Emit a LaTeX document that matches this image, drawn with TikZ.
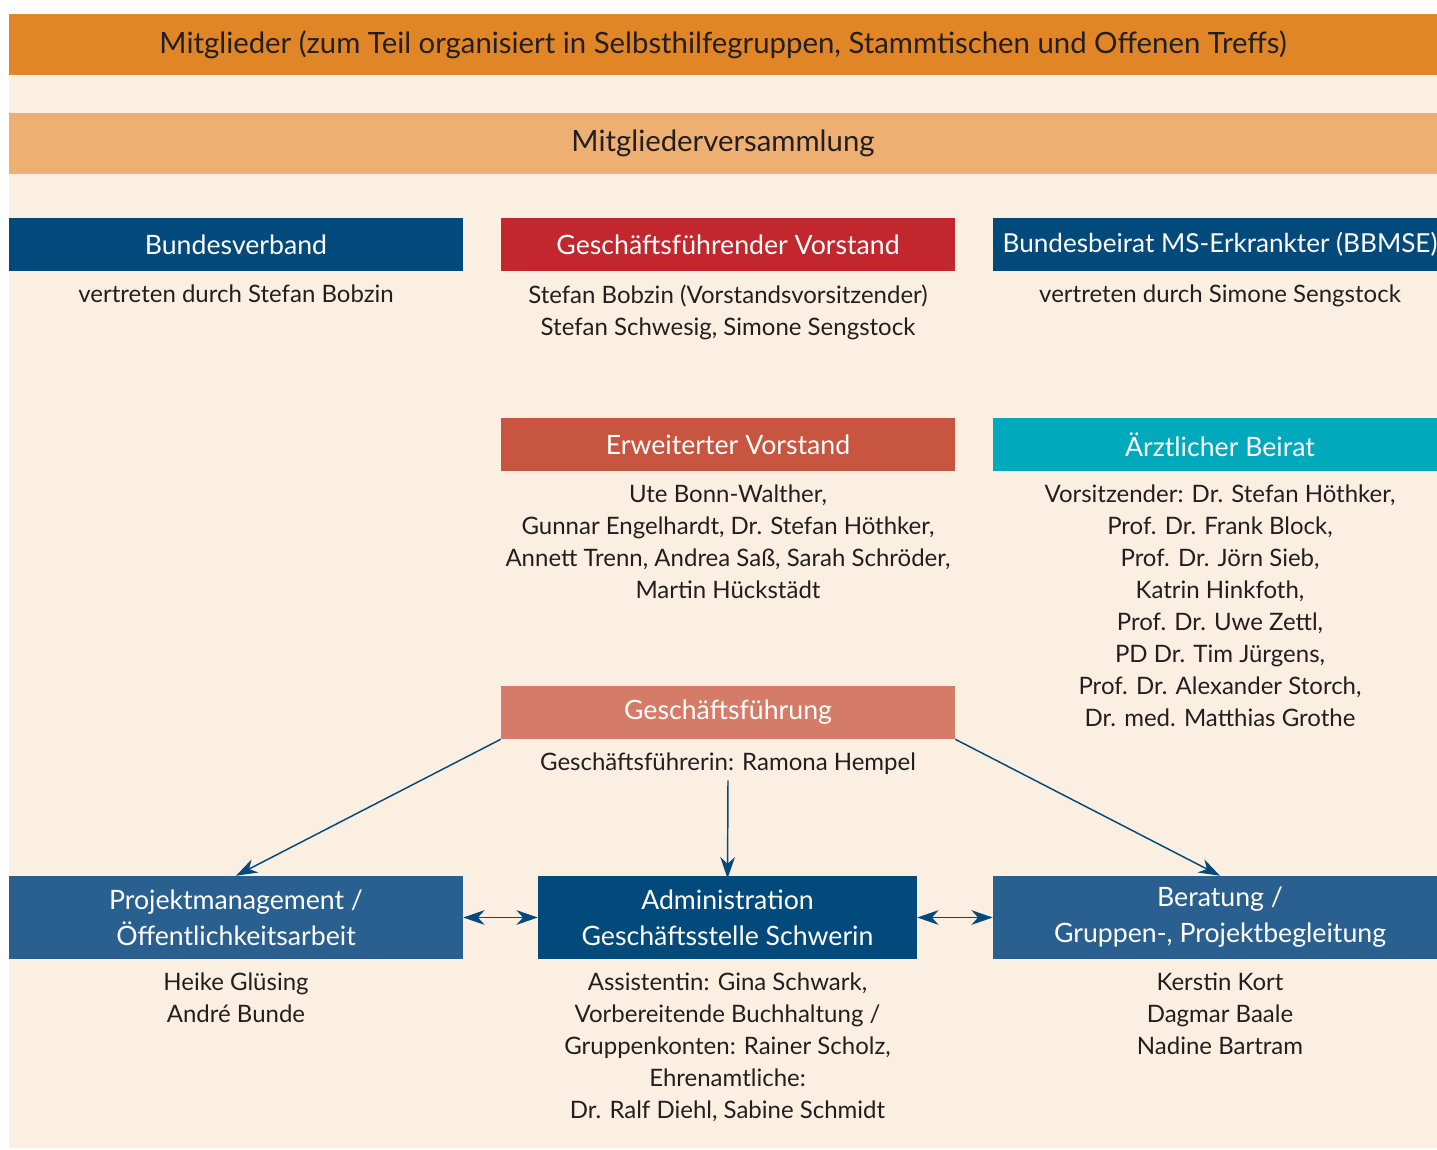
\documentclass[tikz,border=0pt]{standalone}
\usepackage{fontspec}
\setmainfont{Lato}
\usetikzlibrary{arrows.meta,positioning}

\definecolor{cream}{HTML}{FBEFE2}
\definecolor{topbar}{HTML}{E08626}
\definecolor{assembly}{HTML}{EDAF72}
\definecolor{navy}{HTML}{034A7C}
\definecolor{steel}{HTML}{2A6090}
\definecolor{boardred}{HTML}{C1272D}
\definecolor{extred}{HTML}{C8553F}
\definecolor{mgmt}{HTML}{D47C67}
\definecolor{teal}{HTML}{00A9BC}
\definecolor{ink}{HTML}{231F20}

\begin{document}
\begin{tikzpicture}[x=0.75pt,y=-0.75pt,node distance=4pt,
>={Stealth[length=16pt,width=11pt,inset=5pt]},
bar/.style={minimum width=1071pt,minimum height=45.75pt,inner sep=0pt,
    text=ink,font=\fontsize{22}{26}\selectfont},
unit/.style={minimum width=340.5pt,minimum height=39.75pt,inner sep=0pt,
    text=white,font=\fontsize{20}{24}\selectfont},
dept/.style={unit,minimum height=62.25pt,align=center,
    font=\fontsize{20}{27}\selectfont},
names/.style={align=center,text=ink,inner sep=0pt,
    font=\fontsize{18}{24}\selectfont},
link/.style={navy,line width=1.1pt}]
\useasboundingbox (0,0) rectangle (1437,1149);
\fill[cream] (9,14) rectangle (1437,1148);

% Mitglieder und Versammlung
\node[bar,fill=topbar] (mg) at (723,44.5)
    {Mitglieder (zum Teil organisiert in Selbsthilfegruppen, Stammtischen und Offenen Treffs)};
\node[bar,fill=assembly] (mv) at (723,143.5) {Mitgliederversammlung};

% erste Reihe
\node[unit,fill=navy] (bv) at (236,244.5) {Bundesverband};
\node[unit,fill=boardred] (gv) at (728,244.5) {Geschäftsführender Vorstand};
\node[unit,fill=navy,font=\fontsize{19.6}{24}\selectfont] (bb) at (1220,244.5)
    {Bundesbeirat MS-Erkrankter (BBMSE)};
\node[names] (bvN) [below=10pt of bv] {vertreten durch Stefan Bobzin};
\node[names] (gvN) [below=10pt of gv] {Stefan Bobzin (Vorstandsvorsitzender)\\
    Stefan Schwesig, Simone Sengstock};
\node[names] (bbN) [below=10pt of bb] {vertreten durch Simone Sengstock};

% zweite Reihe
\node[unit,fill=extred] (ev) at (728,444.5) {Erweiterter Vorstand};
\node[unit,fill=teal] (ab) at (1220,444.5) {Ärztlicher Beirat};
\node[names] (evN) [below=10pt of ev] {Ute Bonn-Walther,\\
    Gunnar Engelhardt, Dr. Stefan Höthker,\\
    Annett Trenn, Andrea Saß, Sarah Schröder,\\
    Martin Hückstädt};
\node[names] (abN) [below=10pt of ab] {Vorsitzender: Dr. Stefan Höthker,\\
    Prof. Dr. Frank Block,\\ Prof. Dr. Jörn Sieb,\\ Katrin Hinkfoth,\\
    Prof. Dr. Uwe Zettl,\\ PD Dr. Tim Jürgens,\\
    Prof. Dr. Alexander Storch,\\ Dr. med. Matthias Grothe};

% Geschaeftsfuehrung
\node[unit,fill=mgmt] (gf) at (728,712.5) {Geschäftsführung};
\node[names] (gfN) [below=10pt of gf] {Geschäftsführerin: Ramona Hempel};

% untere Reihe
\node[dept,fill=steel] (pm) at (236,917.5) {Projektmanagement /\\ Öffentlichkeitsarbeit};
\node[dept,fill=navy,minimum width=284.25pt] (adm) at (727.5,917.5)
    {Administration\\ Geschäftsstelle Schwerin};
\node[dept,fill=steel] (ber) at (1220,917.5) {Beratung /\\ Gruppen-, Projektbegleitung};
\node[names] (pmN) [below=10pt of pm] {Heike Glüsing\\ André Bunde};
\node[names] (admN) [below=10pt of adm] {Assistentin: Gina Schwark,\\
    Vorbereitende Buchhaltung /\\ Gruppenkonten: Rainer Scholz,\\
    Ehrenamtliche:\\ Dr. Ralf Diehl, Sabine Schmidt};
\node[names] (berN) [below=10pt of ber] {Kerstin Kort\\ Dagmar Baale\\ Nadine Bartram};

\path[link,->] (gf.south west) edge (pm.north)
               (gf.south east) edge (ber.north)
               ([yshift=-4pt]gfN.south) edge ([yshift=-2pt]adm.north);
\path[link,<->] (pm) edge (adm)
                (adm) edge (ber);
\end{tikzpicture}
\end{document}
